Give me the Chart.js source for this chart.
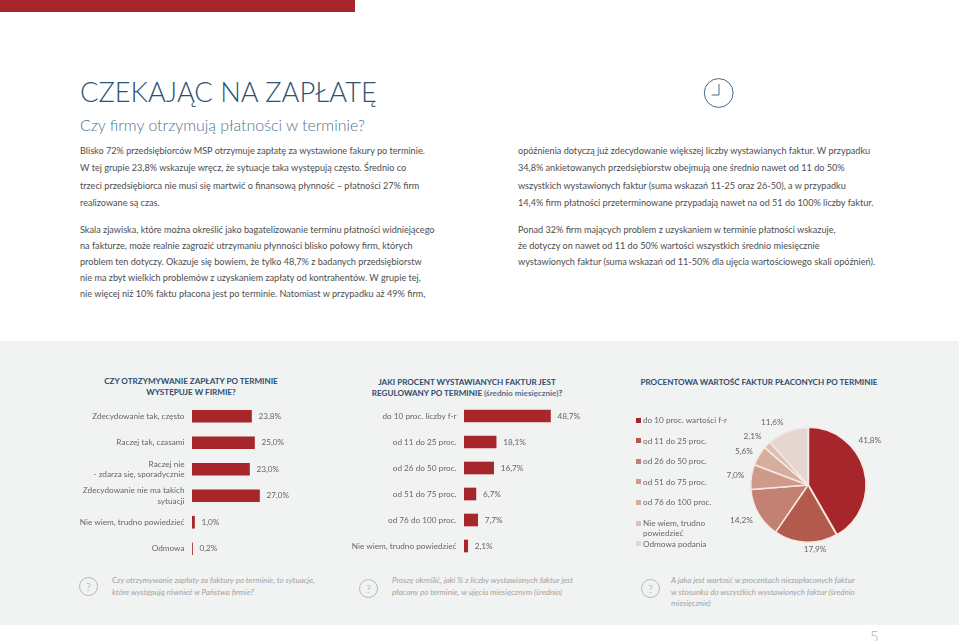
<!DOCTYPE html>
<html lang="pl">
<head>
<meta charset="utf-8">
<title>Czekając na zapłatę</title>
<script src="https://cdn.jsdelivr.net/npm/chart.js@4"></script>
<style>
html, body { margin: 0; padding: 0; background: #fff; }
body { width: 959px; height: 641px; position: relative; overflow: hidden; font-family: Lato, sans-serif; color: #4d4d4f; }
.abs { position: absolute; }
#topbar { left: 0; top: 0; width: 355px; height: 12px; background: #a6262b; }
#panel { left: 0; top: 341px; width: 959px; height: 284px; background: #f1f2f2; }
h1 { position: absolute; left: 80px; top: 72px; margin: 0; font-size: 27.3px; line-height: 40px; font-weight: 300; color: #2e5273; white-space: nowrap; }
h2 { position: absolute; left: 80px; top: 113px; margin: 0; font-size: 15.9px; line-height: 24px; font-weight: 300; color: #4f7390; white-space: nowrap; }
.para { position: absolute; font-size: 9.12px; white-space: pre-line; color: #4d4d4f; }
.ctitle { position: absolute; text-align: center; font-size: 8.1px; line-height: 10.7px; font-weight: 700; color: #2e4d6f; white-space: pre-line; }
.ctitle span { font-weight: 700; color: #56718c; }
canvas { position: absolute; }
#legend { position: absolute; left: 636px; top: 415px; margin: 0; padding: 0; list-style: none; font-size: 8.2px; line-height: 10.4px; color: #666; }
#legend li { position: relative; padding-left: 7px; margin-bottom: 10.2px; width: 100px; }
#legend li.narrow { width: 76px; margin-bottom: 0; }
#legend i { position: absolute; left: 0; top: 2.7px; width: 5px; height: 5px; }
.qmark { position: absolute; width: 17px; height: 17px; border: 1px solid #b8b8b8; border-radius: 50%; text-align: center; font-size: 11px; line-height: 17px; font-weight: 300; color: #9a9a9a; }
.note { position: absolute; font-size: 8px; line-height: 11.7px; font-style: italic; color: #a3a3a3; white-space: pre-line; }
#pageno { position: absolute; left: 870px; top: 627px; font-size: 15px; line-height: 18px; font-weight: 300; color: #b0b0b0; }
</style>
</head>
<body>
<div id="topbar" class="abs"></div>
<div id="panel" class="abs"></div>

<h1>CZEKAJĄC NA ZAPŁATĘ</h1>
<h2>Czy firmy otrzymują płatności w terminie?</h2>

<svg class="abs" style="left:702px;top:77px" width="34" height="34">
  <circle cx="16.7" cy="16" r="14.4" fill="none" stroke="#4a6a85" stroke-width="1"/>
  <path d="M17 7 V18 H9.7" fill="none" stroke="#4a6a85" stroke-width="1"/>
</svg>

<div class="para" style="left:80px;top:142px;line-height:17.3px">Blisko 72% przedsiębiorców MSP otrzymuje zapłatę za wystawione fakury po terminie.
W tej grupie 23,8% wskazuje wręcz, że sytuacje taka występują często. Średnio co
trzeci przedsiębiorca nie musi się martwić o finansową płynność – płatności 27% firm
realizowane są czas.</div>
<div class="para" style="left:80px;top:222px;line-height:16.1px">Skala zjawiska, które można określić jako bagatelizowanie terminu płatności widniejącego
na fakturze, może realnie zagrozić utrzymaniu płynności blisko połowy firm, których
problem ten dotyczy. Okazuje się bowiem, że tylko 48,7% z badanych przedsiębiorstw
nie ma zbyt wielkich problemów z uzyskaniem zapłaty od kontrahentów. W grupie tej,
nie więcej niż 10% faktu płacona jest po terminie. Natomiast w przypadku aż 49% firm,</div>
<div class="para" style="left:518px;top:142px;line-height:17.3px">opóźnienia dotyczą już zdecydowanie większej liczby wystawianych faktur. W przypadku
34,8% ankietowanych przedsiębiorstw obejmują one średnio nawet  od 11 do 50%
wszystkich wystawionych faktur (suma wskazań 11-25 oraz 26-50), a w przypadku
14,4% firm płatności przeterminowane przypadają nawet na od 51 do 100% liczby faktur.</div>
<div class="para" style="left:518px;top:222px;line-height:16.1px">Ponad 32% firm mających problem z uzyskaniem w terminie płatności wskazuje,
że dotyczy on nawet  od 11 do 50% wartości wszystkich średnio miesięcznie
wystawionych faktur (suma wskazań od 11-50% dla ujęcia wartościowego skali opóźnień).</div>

<div class="ctitle" style="left:71px;top:376px;width:240px">CZY OTRZYMYWANIE ZAPŁATY PO TERMINIE
WYSTĘPUJE W FIRMIE?</div>
<div class="ctitle" style="left:347px;top:377px;width:240px">JAKI PROCENT WYSTAWIANYCH FAKTUR JEST
REGULOWANY PO TERMINIE <span>(średnio miesięcznie)</span>?</div>
<div class="ctitle" style="left:620px;top:377px;width:278px">PROCENTOWA WARTOŚĆ FAKTUR PŁACONYCH PO TERMINIE</div>

<canvas id="barOccurs" style="left:60px;top:403px;width:282px;height:159px"></canvas>
<canvas id="barShare" style="left:340px;top:403px;width:266px;height:156px"></canvas>
<canvas id="pieValue" style="left:620px;top:405px;width:280px;height:160px"></canvas>
<ul id="legend"></ul>

<div class="qmark" style="left:79px;top:577px">?</div>
<div class="note" style="left:112px;top:575px">Czy otrzymywanie zapłaty za faktury po terminie, to sytuacje,
które występują również w Państwa firmie?</div>
<div class="qmark" style="left:359px;top:579px">?</div>
<div class="note" style="left:392px;top:575px">Proszę określić, jaki  % z liczby wystawionych faktur jest
płacony po terminie, w ujęciu miesięcznym (średnio)</div>
<div class="qmark" style="left:641px;top:579px">?</div>
<div class="note" style="left:671px;top:575px">A jaka jest wartość w procentach niezapłaconych faktur
w stosunku do wszystkich wystawionych faktur (średnio
miesięcznie)</div>
<div id="pageno">5</div>

<script>
// Chart data
const occursLabels = ['Zdecydowanie tak, często', 'Raczej tak, czasami', ['Raczej nie', '- zdarza się, sporadycznie'], ['Zdecydowanie nie ma takich', 'sytuacji'], 'Nie wiem, trudno powiedzieć', 'Odmowa'];
const occursValues = [23.8, 25.0, 23.0, 27.0, 1.0, 0.2];

const shareLabels = ['do 10 proc. liczby f-r', 'od 11 do 25 proc.', 'od 26 do 50 proc.', 'od 51 do 75 proc.', 'od 76 do 100 proc.', 'Nie wiem, trudno powiedzieć'];
const shareValues = [48.7, 18.1, 16.7, 6.7, 7.7, 2.1];

const pieLabels = ['do 10 proc. wartości f-r', 'od 11 do 25 proc.', 'od 26 do 50 proc.', 'od 51 do 75 proc.', 'od 76 do 100 proc.', 'Nie wiem, trudno powiedzieć', 'Odmowa podania'];
const pieValues = [41.8, 17.9, 14.2, 7.0, 5.6, 2.1, 11.6];

const barColor = '#a6262b';
const pieColors = ['#a6262b', '#b25a4b', '#c28172', '#cf9a88', '#d6ae9e', '#dcc0b4', '#e6d6d1'];
// hand placed pie labels in the original, nudged from the radial position
const pieLabelNudge = [[-8, -26], [10, -8], [-4, -1], [-1, 1], [-2, 3], [-4, 2], [-10, 5]];

const valueFont = '8.2px Lato, sans-serif';
const textColor = '#666666';

function percent(v) {
    return v.toFixed(1).replace('.', ',') + '%';
}

// Values to the right of each bar
const barValueLabels = {
    id: 'barValueLabels',
    afterDatasetsDraw(chart) {
        const ctx = chart.ctx;
        const meta = chart.getDatasetMeta(0);
        ctx.save();
        ctx.font = valueFont;
        ctx.fillStyle = textColor;
        ctx.textBaseline = 'middle';
        meta.data.forEach((bar, i) => {
            ctx.fillText(percent(chart.data.datasets[0].data[i]), bar.x + 7, bar.y);
        });
        ctx.restore();
    }
};

// Values round the pie
const pieValueLabels = {
    id: 'pieValueLabels',
    afterDatasetsDraw(chart) {
        const ctx = chart.ctx;
        const meta = chart.getDatasetMeta(0);
        ctx.save();
        ctx.font = valueFont;
        ctx.fillStyle = textColor;
        ctx.textAlign = 'center';
        ctx.textBaseline = 'middle';
        meta.data.forEach((arc, i) => {
            const mid = (arc.startAngle + arc.endAngle) / 2;
            const r = arc.outerRadius + 15;
            const x = arc.x + Math.cos(mid) * r + pieLabelNudge[i][0];
            const y = arc.y + Math.sin(mid) * r + pieLabelNudge[i][1];
            ctx.fillText(percent(chart.data.datasets[0].data[i]), x, y);
        });
        ctx.restore();
    }
};

function makeBarChart(id, labels, values, axisWidth, maxValue) {
    return new Chart(document.getElementById(id), {
        type: 'bar',
        data: {
            labels: labels,
            datasets: [{ data: values, backgroundColor: barColor, barThickness: 12 }]
        },
        options: {
            indexAxis: 'y',
            responsive: false,
            animation: false,
            layout: { padding: 0 },
            plugins: { legend: { display: false }, tooltip: { enabled: false } },
            scales: {
                x: { display: false, min: 0, max: maxValue },
                y: {
                    // fixed axis width, and no extra room for the first and last label
                    afterFit(scale) {
                        scale.width = axisWidth;
                        scale.paddingTop = 0;
                        scale.paddingBottom = 0;
                    },
                    border: { display: false },
                    grid: { display: false, drawTicks: false },
                    ticks: { color: textColor, font: { family: 'Lato', size: 8.2, lineHeight: 1.27 }, padding: 7.5, autoSkip: false }
                }
            }
        },
        plugins: [barValueLabels]
    });
}

function setCanvasSize(id, w, h) {
    const c = document.getElementById(id);
    c.width = w;
    c.height = h;
}

setCanvasSize('barOccurs', 282, 159);
setCanvasSize('barShare', 266, 156);
setCanvasSize('pieValue', 280, 160);

makeBarChart('barOccurs', occursLabels, occursValues, 132, 60);
makeBarChart('barShare', shareLabels, shareValues, 124, 80);

new Chart(document.getElementById('pieValue'), {
    type: 'pie',
    data: {
        labels: pieLabels,
        datasets: [{
            data: pieValues,
            backgroundColor: pieColors,
            borderColor: '#f6e9e2',
            borderWidth: 1.5,
            offset: [2, 0, 0, 0, 0, 0, 0]
        }]
    },
    options: {
        responsive: false,
        animation: false,
        layout: { padding: { left: 129, right: 33, top: 20, bottom: 20 } },
        plugins: { legend: { display: false }, tooltip: { enabled: false } }
    },
    plugins: [pieValueLabels]
});

// Legend of the pie, built from the same arrays
const legend = document.getElementById('legend');
pieLabels.forEach((label, i) => {
    const li = document.createElement('li');
    li.textContent = label;
    if (i === 5) li.className = 'narrow';
    const box = document.createElement('i');
    box.style.background = pieColors[i];
    li.appendChild(box);
    legend.appendChild(li);
});
</script>
</body>
</html>
